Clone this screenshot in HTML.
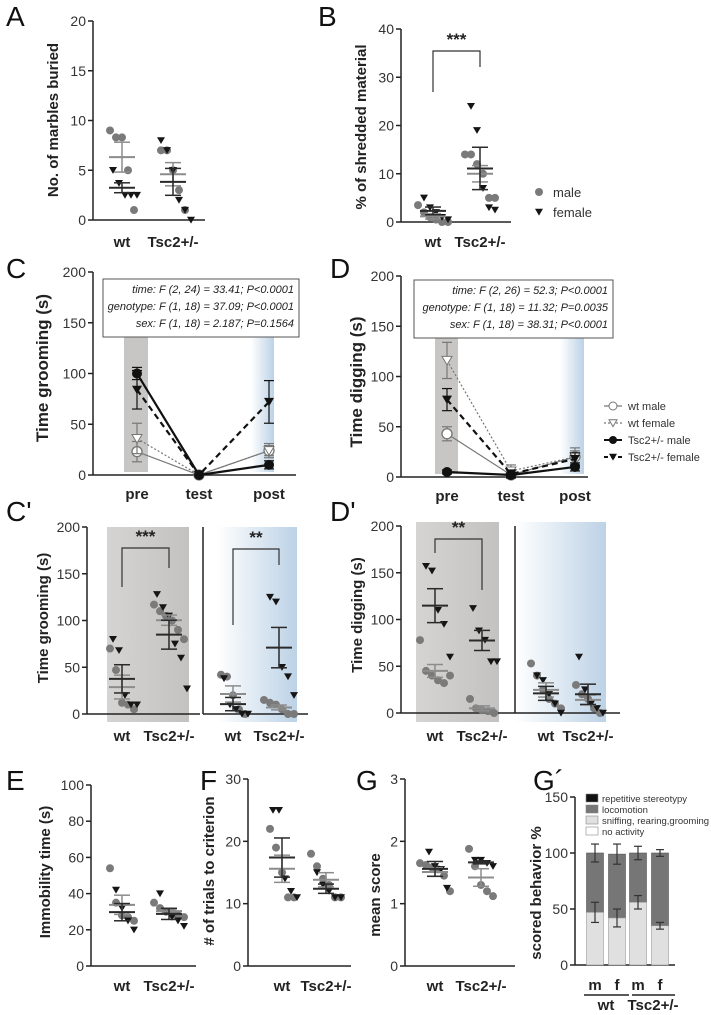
<!DOCTYPE html>
<html><head><meta charset="utf-8"><style>
html,body{margin:0;padding:0;background:#fff;}
svg{display:block;font-family:"Liberation Sans",sans-serif;}
</style></head><body>
<svg id="fig" width="711" height="1015" viewBox="0 0 711 1015" xmlns="http://www.w3.org/2000/svg">
<defs>
<linearGradient id="blueG" x1="0" x2="1" y1="0" y2="0"><stop offset="0" stop-color="#ffffff"/><stop offset="1" stop-color="#bcd2e6"/></linearGradient>
<linearGradient id="grayG" x1="0" x2="1" y1="0" y2="0"><stop offset="0" stop-color="#d6d4d2"/><stop offset="1" stop-color="#c4c2c0"/></linearGradient>
</defs>
</svg>
<script>
// ---------- data ----------
const groupsLabels = ["wt","Tsc2+/-"];
const aWtMale=[9,8.3,8.3,5,1], aWtFemale=[5,3.7,2.5,2.5,2.5];
const aTscMale=[7,7,5,3,1], aTscFemale=[8,7,5,2,1,0];
const bWtMale=[3.5,2,1,0.5,0,0], bWtFemale=[5,3,2,1,0.5];
const bTscMale=[14,14,12,10,5,5], bTscFemale=[24,19,7,3,2.5];
const cpPreWtMale=[70,47,12,10,5], cpPreWtFemale=[80,68,20,10,10];
const cpPreTscMale=[117,110,105,100,90,80], cpPreTscFemale=[128,114,105,75,60,27];
const cpPostWtMale=[42,40,20,5,0], cpPostWtFemale=[38,10,5,0,0];
const cpPostTscMale=[15,12,10,5,0,0], cpPostTscFemale=[125,120,50,40,20];
const dpPreWtMale=[78,45,40,35,32,40], dpPreWtFemale=[157,152,110,95,60];
const dpPreTscMale=[15,5,3,2,0], dpPreTscFemale=[112,88,78,55,55];
const dpPostWtMale=[53,40,25,15,10,5], dpPostWtFemale=[40,35,20,10,0];
const dpPostTscMale=[30,20,15,5,0], dpPostTscFemale=[60,25,10,5,0];
const eWtMale=[54,35,28,27,25], eWtFemale=[42,32,25,20];
const eTscMale=[35,32,30,30,28,27], eTscFemale=[40,30,27,25,22];
const fWtMale=[22,19,15,11,11], fWtFemale=[25,25,14,12,11];
const fTscMale=[18,16,14,13,11,11], fTscFemale=[15,13,12,11,11];
const gWtMale=[1.65,1.62,1.58,1.55,1.45,1.2], gWtFemale=[1.83,1.6,1.55,1.25];
const gTscMale=[1.88,1.6,1.3,1.2,1.12], gTscFemale=[1.7,1.7,1.65,1.6];
// time course
const timeCats=["pre","test","post"];
const cWtMale=[23,0,24], cWtMaleSem=[10,0,7];
const cWtFemale=[36,0,24], cWtFemaleSem=[15,0,5];
const cTscMale=[100,0,10], cTscMaleSem=[6,0,4];
const cTscFemale=[84,0,72], cTscFemaleSem=[19,0,21];
const dWtMale=[43,2,20], dWtMaleSem=[7,3,6];
const dWtFemale=[116,6,20], dWtFemaleSem=[18,6,9];
const dTscMale=[5,2,10], dTscMaleSem=[2,2,4];
const dTscFemale=[77,3,18], dTscFemaleSem=[11,4,6];
// G'
const gpCats=["m","f","m","f"];
const gpLower=[47,42,56,35], gpLowerErr=[9,8,6,3];
const gpTotal=[100,99,100,100], gpTotalErr=[8,9,6,3];

// ---------- helpers ----------
const NS="http://www.w3.org/2000/svg";
const svg=document.getElementById('fig');
function mk(tag,attrs,name,parent){
  const el=document.createElementNS(NS,tag);
  for(const k in attrs) el.setAttribute(k,attrs[k]);
  
  
  (parent||svg).appendChild(el);
  return el;
}
function txt(x,y,s,name,opt){
  opt=opt||{};
  const t=mk('text',{x:x,y:y,'font-size':opt.size||14,fill:opt.fill||'#222','text-anchor':opt.anchor||'middle','font-weight':opt.weight||'normal','font-style':opt.style||'normal'},name);
  if(opt.rot) t.setAttribute('transform','rotate(-90 '+x+' '+y+')');
  t.textContent=s; return t;
}
function line(x1,y1,x2,y2,name,stroke,w,dash){
  const l=mk('line',{x1:x1,y1:y1,x2:x2,y2:y2,stroke:stroke||'#222','stroke-width':w||1.5},name);
  if(dash) l.setAttribute('stroke-dasharray',dash);
  return l;
}
function scaleY(y0,yt,vmax){return v=>y0-v/vmax*(y0-yt);}
function axis(ax,y0,yt,vmax,step,xend,name){
  const Y=scaleY(y0,yt,vmax);
  line(ax,y0,ax,yt,name+'-y-axis');
  for(let v=0;v<=vmax+1e-9;v+=step){
    const y=Y(v);
    line(ax-5,y,ax,y,name+'-y-tick');
    txt(ax-7,y+5,String(Math.round(v*100)/100),name+'-y-tick-label',{anchor:'end',size:14,fill:'#333'});
  }
  if(xend) line(ax,y0,xend,y0,name+'-x-axis');
  return Y;
}
function mean(a){return a.reduce((s,v)=>s+v,0)/a.length;}
function sem(a){const m=mean(a);const sd=Math.sqrt(a.reduce((s,v)=>s+(v-m)*(v-m),0)/(a.length-1));return sd/Math.sqrt(a.length);}
function tri(x,y,r,fill,stroke,name){
  return mk('polygon',{points:(x-r)+','+(y-r*0.8)+' '+(x+r)+','+(y-r*0.8)+' '+x+','+(y+r*0.9),fill:fill,stroke:stroke||'none','stroke-width':1},name);
}
function group(cx,Y,males,females,name){
  males.forEach((v,i)=>{
    const off=(i-(males.length-1)/2)*6;
    mk('circle',{cx:cx+off,cy:Y(v),r:4,fill:'#7a7a7a'},name+'-male-point');
  });
  females.forEach((v,i)=>{
    const off=(i-(females.length-1)/2)*6+3;
    tri(cx+off,Y(v),4,'#151515',null,name+'-female-point');
  });
  [[males,'#8c8c8c','male'],[females,'#2a2a2a','female']].forEach(([arr,col,s])=>{
    const m=mean(arr), e=sem(arr);
    line(cx-13,Y(m),cx+13,Y(m),name+'-'+s+'-mean',col,2);
    line(cx-8,Y(m+e),cx+8,Y(m+e),name+'-'+s+'-sem-top',col,1.5);
    line(cx-8,Y(m-e),cx+8,Y(m-e),name+'-'+s+'-sem-bottom',col,1.5);
    line(cx,Y(m+e),cx,Y(m-e),name+'-'+s+'-sem-bar',col,1.5);
  });
}
function xlabels(xs,y,labels,name){xs.forEach((x,i)=>txt(x,y,labels[i],name+'-x-label',{size:15,weight:'bold'}));}
function letter(x,y,s){txt(x,y,s,'panel-label-'+s,{size:28,anchor:'start',fill:'#111'});}
function bracket(x1,y1,x2,y2,top,stars,name){
  mk('polyline',{points:x1+','+y1+' '+x1+','+top+' '+x2+','+top+' '+x2+','+y2,fill:'none',stroke:'#333','stroke-width':1.2},name+'-bracket');
  txt((x1+x2)/2,top-6,stars,name+'-significance',{size:17,weight:'bold'});
}

// ---------- Panel A ----------
letter(6,26,'A');
let Y=axis(93,220,21,20,5,205,'a');
group(122,Y,aWtMale,aWtFemale,'a-wt');
group(173,Y,aTscMale,aTscFemale,'a-tsc');
xlabels([122,173],247,groupsLabels,'a');
txt(58,120,'No. of marbles buried','a-y-axis-title',{size:15,weight:'bold',rot:true});

// ---------- Panel B ----------
letter(318,26,'B');
Y=axis(401,222,29,40,10,511,'b');
group(433,Y,bWtMale,bWtFemale,'b-wt');
group(480,Y,bTscMale,bTscFemale,'b-tsc');
xlabels([433,480],247,groupsLabels,'b');
txt(366,127,'% of shredded material','b-y-axis-title',{size:15,weight:'bold',rot:true});
bracket(433,92,480,67,51,'***','b');
mk('circle',{cx:539,cy:192,r:4,fill:'#7a7a7a'},'b-legend-male-marker');
txt(553,197,'male','b-legend-male-label',{anchor:'start',size:13,fill:'#333'});
tri(539,212,4,'#151515',null,'b-legend-female-marker');
txt(553,217,'female','b-legend-female-label',{anchor:'start',size:13,fill:'#333'});

// ---------- time course panels ----------
function timePanel(p,ax,y0,yt,xs,xend,bands,box,stats,series){
  const Yp=axis(ax,y0,yt,200,50,xend,p);
  mk('rect',{x:bands[0],y:bands[2],width:bands[1]-bands[0],height:y0-3-bands[2],fill:'#c8c6c4'},p+'-pre-band');
  mk('rect',{x:bands[3],y:bands[2],width:bands[4]-bands[3],height:y0-3-bands[2],fill:'url(#blueG)'},p+'-post-band');
  mk('rect',{x:box[0],y:box[1],width:box[2]-box[0],height:box[3]-box[1],fill:'#fff',stroke:'#555','stroke-width':1},p+'-stats-box');
  stats.forEach((s,i)=>txt(box[2]-5,box[1]+14+i*17,s,p+'-stats-line',{anchor:'end',size:11,style:'italic',fill:'#222'}));
  series.forEach(sr=>{
    const [vals,errs,col,w,dash,marker,nm]=sr;
    const pts=vals.map((v,i)=>xs[i]+','+Yp(v)).join(' ');
    const pl=mk('polyline',{points:pts,fill:'none',stroke:col,'stroke-width':w},p+'-'+nm+'-line');
    if(dash) pl.setAttribute('stroke-dasharray',dash);
    vals.forEach((v,i)=>{
      const x=xs[i];
      if(errs[i]>0){
        line(x,Yp(v+errs[i]),x,Yp(v-errs[i]),p+'-'+nm+'-error',col,1.2);
        line(x-5,Yp(v+errs[i]),x+5,Yp(v+errs[i]),p+'-'+nm+'-error-cap',col,1.2);
        line(x-5,Yp(v-errs[i]),x+5,Yp(v-errs[i]),p+'-'+nm+'-error-cap',col,1.2);
      }
      if(marker==='oc') mk('circle',{cx:x,cy:Yp(v),r:5,fill:'#fff',stroke:col,'stroke-width':1.3},p+'-'+nm+'-marker');
      if(marker==='ot') tri(x,Yp(v),5,'#fff',col,p+'-'+nm+'-marker');
      if(marker==='fc') mk('circle',{cx:x,cy:Yp(v),r:5,fill:'#111'},p+'-'+nm+'-marker');
      if(marker==='ft') tri(x,Yp(v),5,'#111',null,p+'-'+nm+'-marker');
    });
  });
  xlabels(xs,y0+24,timeCats,p);
}
letter(6,278,'C');
timePanel('c',93,475,272,[137,199,269],296,[124,148,334,251,274],[103,279,299,337],
 ['time: F (2, 24) = 33.41; P<0.0001','genotype: F (1, 18) = 37.09; P<0.0001','sex: F (1, 18) = 2.187; P=0.1564'],
 [[cWtMale,cWtMaleSem,'#777',1.2,null,'oc','wt-male'],[cWtFemale,cWtFemaleSem,'#777',1.2,'2,2','ot','wt-female'],
  [cTscMale,cTscMaleSem,'#111',2.2,null,'fc','tsc-male'],[cTscFemale,cTscFemaleSem,'#111',2.2,'6,4','ft','tsc-female']]);
txt(48,368,'Time grooming (s)','c-y-axis-title',{size:17,weight:'bold',rot:true});

letter(330,278,'D');
timePanel('d',401,477,276,[447,511,575],588,[435,458,336,560,584],[414,280,613,338],
 ['time: F (2, 26) = 52.3; P<0.0001','genotype: F (1, 18) = 11.32; P=0.0035','sex: F (1, 18) = 38.31; P<0.0001'],
 [[dWtMale,dWtMaleSem,'#777',1.2,null,'oc','wt-male'],[dWtFemale,dWtFemaleSem,'#777',1.2,'2,2','ot','wt-female'],
  [dTscMale,dTscMaleSem,'#111',2.2,null,'fc','tsc-male'],[dTscFemale,dTscFemaleSem,'#111',2.2,'6,4','ft','tsc-female']]);
txt(362,382,'Time digging (s)','d-y-axis-title',{size:17,weight:'bold',rot:true});
// legend D
const legItems=[['wt male','oc','#777',null,1.2],['wt female','ot','#777','2,2',1.2],['Tsc2+/- male','fc','#111',null,2],['Tsc2+/- female','ft','#111','4,3',2]];
legItems.forEach((it,i)=>{
  const y=406+i*17;
  line(604,y,622,y,'d-legend-line',it[2],it[4],it[3]);
  if(it[1]==='oc') mk('circle',{cx:613,cy:y,r:4,fill:'#fff',stroke:it[2]},'d-legend-marker');
  if(it[1]==='ot') tri(613,y,4,'#fff',it[2],'d-legend-marker');
  if(it[1]==='fc') mk('circle',{cx:613,cy:y,r:4,fill:'#111'},'d-legend-marker');
  if(it[1]==='ft') tri(613,y,4,'#111',null,'d-legend-marker');
  txt(628,y+4,it[0],'d-legend-label',{anchor:'start',size:11,fill:'#333'});
});

// ---------- C' ----------
letter(6,521,"C'");
mk('rect',{x:107,y:527,width:82,height:195,fill:'url(#grayG)'},'cp-pre-band');
mk('rect',{x:217,y:527,width:80,height:195,fill:'url(#blueG)'},'cp-post-band');
Y=axis(87,714,527,200,50,200,'cp');
line(203,527,203,714,'cp-divider');
line(203,714,308,714,'cp-x-axis-post');
group(122,Y,cpPreWtMale,cpPreWtFemale,'cp-pre-wt');
group(169,Y,cpPreTscMale,cpPreTscFemale,'cp-pre-tsc');
group(233,Y,cpPostWtMale,cpPostWtFemale,'cp-post-wt');
group(279,Y,cpPostTscMale,cpPostTscFemale,'cp-post-tsc');
bracket(122,587,169,568,548,'***','cp-pre');
bracket(233,625,279,565,549,'**','cp-post');
xlabels([122,169,233,279],741,groupsLabels.concat(groupsLabels),'cp');
txt(48,618,'Time grooming (s)','cp-y-axis-title',{size:15,weight:'bold',rot:true});

// ---------- D' ----------
letter(330,521,"D'");
mk('rect',{x:416,y:522,width:83,height:200,fill:'url(#grayG)'},'dp-pre-band');
mk('rect',{x:515,y:522,width:91,height:200,fill:'url(#blueG)'},'dp-post-band');
Y=axis(401,713,526,200,50,620,'dp');
line(515,526,515,713,'dp-divider');
group(435,Y,dpPreWtMale,dpPreWtFemale,'dp-pre-wt');
group(482,Y,dpPreTscMale,dpPreTscFemale,'dp-pre-tsc');
group(546,Y,dpPostWtMale,dpPostWtFemale,'dp-post-wt');
group(588,Y,dpPostTscMale,dpPostTscFemale,'dp-post-tsc');
bracket(435,553,482,590,539,'**','dp-pre');
xlabels([435,482,546,588],741,groupsLabels.concat(groupsLabels),'dp');
txt(362,615,'Time digging (s)','dp-y-axis-title',{size:15,weight:'bold',rot:true});

// ---------- E F G ----------
letter(6,790,'E');
Y=axis(91,966,785,100,20,196,'e');
group(122,Y,eWtMale,eWtFemale,'e-wt');
group(169,Y,eTscMale,eTscFemale,'e-tsc');
xlabels([122,169],991,groupsLabels,'e');
txt(50,872,'Immobility time (s)','e-y-axis-title',{size:15,weight:'bold',rot:true});

letter(200,790,'F');
Y=axis(248,966,779,30,10,351,'f');
group(282,Y,fWtMale,fWtFemale,'f-wt');
group(326,Y,fTscMale,fTscFemale,'f-tsc');
xlabels([282,326],991,groupsLabels,'f');
txt(214,871,'# of trials to criterion','f-y-axis-title',{size:15,weight:'bold',rot:true});

letter(356,790,'G');
Y=axis(405,966,779,3,1,515,'g');
group(435,Y,gWtMale,gWtFemale,'g-wt');
group(481,Y,gTscMale,gTscFemale,'g-tsc');
xlabels([435,481],991,groupsLabels,'g');
txt(380,895,'mean score','g-y-axis-title',{size:15,weight:'bold',rot:true});

// ---------- G' ----------
letter(533,790,'G\u00b4');
Y=axis(575,965,797,150,50,675,'gp');
const gpX=[595,617,638,660];
gpCats.forEach((c,i)=>{
  const x=gpX[i], w=17;
  mk('rect',{x:x-w/2,y:Y(gpTotal[i]),width:w,height:Y(gpLower[i])-Y(gpTotal[i]),fill:'#767676',stroke:'#555','stroke-width':0.6},'gp-bar-locomotion');
  mk('rect',{x:x-w/2,y:Y(gpLower[i]),width:w,height:965-Y(gpLower[i]),fill:'#e0e0e0',stroke:'#999','stroke-width':0.6},'gp-bar-sniffing');
  [[gpTotal[i],gpTotalErr[i]],[gpLower[i],gpLowerErr[i]]].forEach(([v,e])=>{
    line(x,Y(v-e),x,Y(v+e),'gp-error-bar','#333',1.2);
    line(x-4,Y(v+e),x+4,Y(v+e),'gp-error-cap','#333',1.2);
    line(x-4,Y(v-e),x+4,Y(v-e),'gp-error-cap','#333',1.2);
  });
  txt(x,990,c,'gp-x-label',{size:15,weight:'bold'});
});
line(584,995,629,995,'gp-wt-underline','#222',1.5);
line(632,995,675,995,'gp-tsc-underline','#222',1.5);
txt(606,1010,'wt','gp-group-label',{size:15,weight:'bold'});
txt(653,1010,'Tsc2+/-','gp-group-label',{size:15,weight:'bold'});
txt(541,893,'scored behavior %','gp-y-axis-title',{size:15,weight:'bold',rot:true});
const gpLeg=[['repetitive stereotypy','#111'],['locomotion','#767676'],['sniffing, rearing,grooming','#e0e0e0'],['no activity','#fff']];
gpLeg.forEach((it,i)=>{
  const y=794+i*11;
  mk('rect',{x:586,y:y,width:12,height:8,fill:it[1],stroke:'#888','stroke-width':0.6},'gp-legend-swatch');
  txt(602,y+8,it[0],'gp-legend-label',{anchor:'start',size:9.5,fill:'#333'});
});
</script>
</body></html>
